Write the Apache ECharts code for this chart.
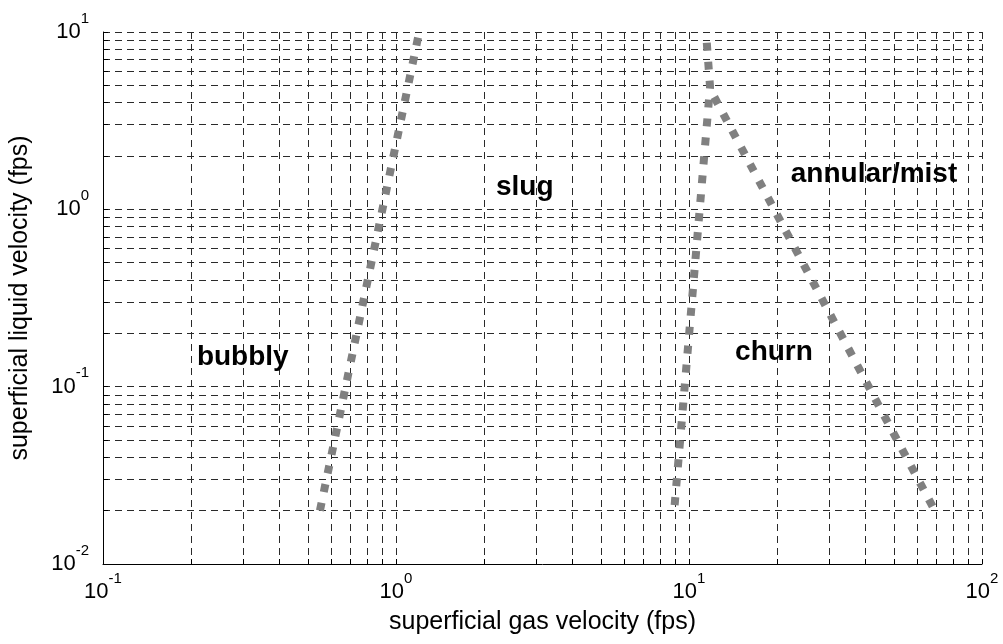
<!DOCTYPE html>
<html>
<head>
<meta charset="utf-8">
<script src="https://cdn.jsdelivr.net/npm/echarts@6/dist/echarts.min.js"></script>
<style>
  html, body { margin: 0; padding: 0; background: #fff; }
  #chart { width: 1003px; height: 644px; }
</style>
</head>
<body>
<div id="chart"></div>
<script>
// Grid / tick positions (log decades with 2..9 subdivisions)
const xGridValues = [0.1, 0.2, 0.3, 0.4, 0.5, 0.6, 0.7, 0.8, 0.9,
                     1, 2, 3, 4, 5, 6, 7, 8, 9,
                     10, 20, 30, 40, 50, 60, 70, 80, 90, 100];
const yGridValues = [0.01, 0.02, 0.03, 0.04, 0.05, 0.06, 0.07, 0.08, 0.09,
                     0.1, 0.2, 0.3, 0.4, 0.5, 0.6, 0.7, 0.8, 0.9,
                     1, 2, 3, 4, 5, 6, 7, 8, 9, 10];
const xLabelValues = [0.1, 1, 10, 100];
const yLabelValues = [0.01, 0.1, 1, 10];

// Flow-regime transition boundaries (gas velocity, liquid velocity)
const bubblySlugX = [0.55, 1.2];
const bubblySlugY = [0.02, 10];
const slugChurnX = [11.5, 11.8, 8.9];
const slugChurnY = [8.7, 4.9, 0.02];
const churnAnnularX = [12.2, 69];
const churnAnnularY = [4.3, 0.02];

// Regime names and where they sit
const regionNames = ['bubbly', 'slug', 'annular/mist', 'churn'];
const regionX = [0.30, 2.75, 42.8, 19.5];
const regionY = [0.146, 1.33, 1.575, 0.156];

const FONT = "'Liberation Sans', Arial, Helvetica, sans-serif";

function pairs(xs, ys) { return xs.map((x, i) => [x, ys[i]]); }
function powLabel(v) {
  const e = Math.round(Math.log10(v));
  return '{b|10}{e|' + e + '}';
}
const richPow = {
  b: { fontSize: 22, fontFamily: FONT, color: '#000', verticalAlign: 'bottom' },
  e: { fontSize: 15, fontFamily: FONT, color: '#000', verticalAlign: 'bottom', padding: [0, 0, 17, 0] }
};

const gridLineStyle = { color: '#2a2a2a', width: 1, type: [7, 5] };
const boundaryStyle = { color: '#808080', width: 8, type: [8, 11], cap: 'butt' };

function boundary(xs, ys) {
  return {
    type: 'line', data: pairs(xs, ys), symbol: 'none', showSymbol: false,
    lineStyle: boundaryStyle, silent: true, z: 5
  };
}

const chart = echarts.init(document.getElementById('chart'), null, { renderer: 'canvas' });
chart.setOption({
  animation: false,
  backgroundColor: '#fff',
  grid: { left: 103, right: 21, top: 32, bottom: 80, containLabel: false, outerBoundsMode: 'none' },
  xAxis: {
    type: 'log', logBase: 10, min: 0.1, max: 100,
    name: 'superficial gas velocity (fps)', nameLocation: 'middle', nameGap: 46,
    nameTextStyle: { fontSize: 25, fontFamily: FONT, color: '#000' },
    axisLine: { show: true, lineStyle: { color: '#000', width: 1 } },
    axisTick: { show: true, inside: true, length: 5, customValues: xGridValues, lineStyle: { color: '#000' } },
    axisLabel: { customValues: xLabelValues, formatter: powLabel, rich: richPow, margin: 7, showMinLabel: true, showMaxLabel: true },
    splitLine: { show: true, lineStyle: gridLineStyle }
  },
  yAxis: {
    type: 'log', logBase: 10, min: 0.01, max: 10,
    name: 'superficial liquid velocity (fps)', nameLocation: 'middle', nameGap: 70,
    nameTextStyle: { fontSize: 25, fontFamily: FONT, color: '#000' },
    axisLine: { show: true, lineStyle: { color: '#000', width: 1 } },
    axisTick: { show: true, inside: true, length: 5, customValues: yGridValues, lineStyle: { color: '#000' } },
    axisLabel: { customValues: yLabelValues, formatter: powLabel, rich: richPow, margin: 14, padding: [0, 0, 10, 0], showMinLabel: true, showMaxLabel: true },
    splitLine: { show: true, lineStyle: gridLineStyle }
  },
  series: [
    boundary(bubblySlugX, bubblySlugY),
    boundary(slugChurnX, slugChurnY),
    boundary(churnAnnularX, churnAnnularY),
    {
      type: 'scatter', symbolSize: 1, silent: true, z: 6,
      itemStyle: { color: 'transparent', opacity: 1 },
      data: regionNames.map((n, i) => ({ name: n, value: [regionX[i], regionY[i]] })),
      label: {
        show: true, position: 'inside', formatter: '{b}', opacity: 1,
        fontSize: 28, fontWeight: 'bold', fontFamily: FONT, color: '#000'
      }
    }
  ]
});
</script>
</body>
</html>
